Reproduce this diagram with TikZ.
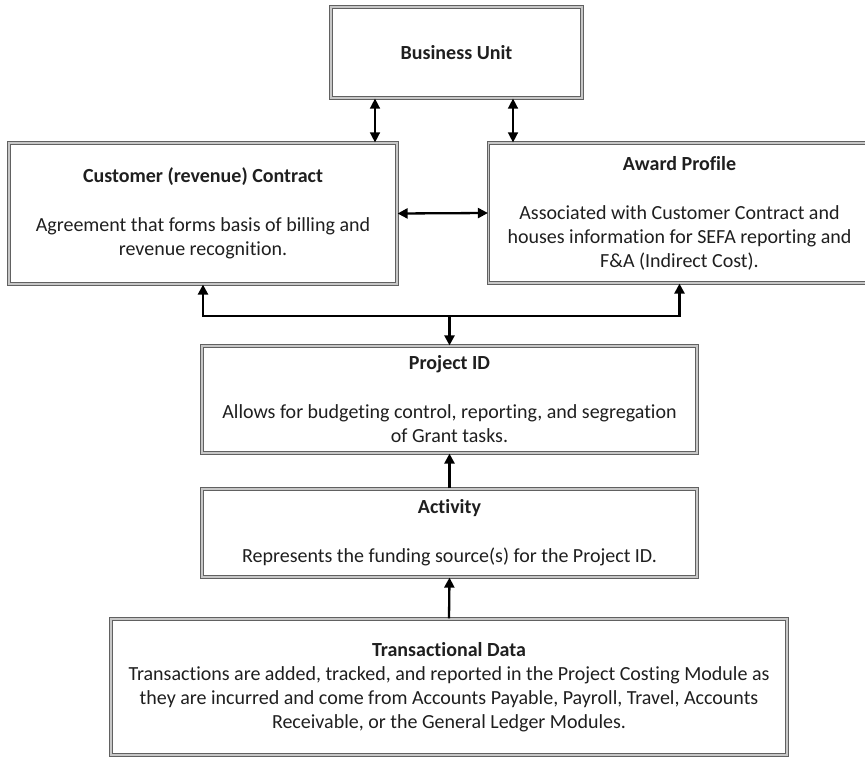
\documentclass[tikz,border=0pt]{standalone}
\usepackage{fontspec}
\setmainfont{Carlito}[Ligatures={NoCommon}]
\usetikzlibrary{arrows.meta}
\begin{document}
\begin{tikzpicture}[x=1pt,y=-1pt,
  box/.style={rectangle, draw=black!62, line width=1.2pt, double=black!22, double distance=1.2pt,
    fill=white, align=center, inner sep=0pt, text=black!88,
    font=\fontsize{20}{24}\selectfont},
  conn/.style={line width=2.3pt, black},
  thin/.style={line width=1.5pt, black},
  tip/.style={-{Triangle[length=10pt,width=10pt]}},
  tips/.style={{Triangle[length=10pt,width=10pt]}-{Triangle[length=10pt,width=10pt]}}
]
\useasboundingbox (0,0) rectangle (865,757);
\fill[white] (0,0) rectangle (865,757);

\node[box, minimum width=251, minimum height=91] (bu) at (456.5,52.5)
  {\textbf{Business Unit}};
\node[box, minimum width=388, minimum height=141] (cust) at (203,213.5)
  {\textbf{Customer (revenue) Contract}\\[25pt]Agreement that forms basis of billing and\\revenue recognition.};
\node[box, minimum width=382, minimum height=140] (award) at (679.5,213)
  {\textbf{Award Profile}\\[25pt]Associated with Customer Contract and\\houses information for SEFA reporting and\\F\&A (Indirect Cost).};
\node[box, minimum width=495, minimum height=107] (proj) at (449.5,399.5)
  {\textbf{Project ID}\\[25pt]Allows for budgeting control, reporting, and segregation\\of Grant tasks.};
\node[box, minimum width=495, minimum height=88] (act) at (449.5,533)
  {\textbf{Activity}\\[25pt]Represents the funding source(s) for the Project ID.};
\node[box, minimum width=676, minimum height=136] (trans) at (449,687)
  {\textbf{Transactional Data}\\Transactions are added, tracked, and reported in the Project Costing Module as\\they are incurred and come from Accounts Payable, Payroll, Travel, Accounts\\Receivable, or the General Ledger Modules.};

\coordinate (xa) at (375,0);
\coordinate (xb) at (513,0);
\coordinate (yj) at (0,316);
\coordinate (j) at (proj.north |- yj);

\draw[thin, tips] (bu.south -| xa) -- (cust.north -| xa);
\draw[thin, tips] (bu.south -| xb) -- (award.north -| xb);
\draw[conn, tips] (cust.east) -- (award.west);
\draw[conn, tip] (j) -| (cust.south);
\draw[conn, tip] (j) -| (award.south);
\draw[conn, tip] (j) -- (proj.north);
\draw[conn, tip] (act.north) -- (proj.south);
\draw[conn, tip] (trans.north) -- (act.south);
\end{tikzpicture}
\end{document}
